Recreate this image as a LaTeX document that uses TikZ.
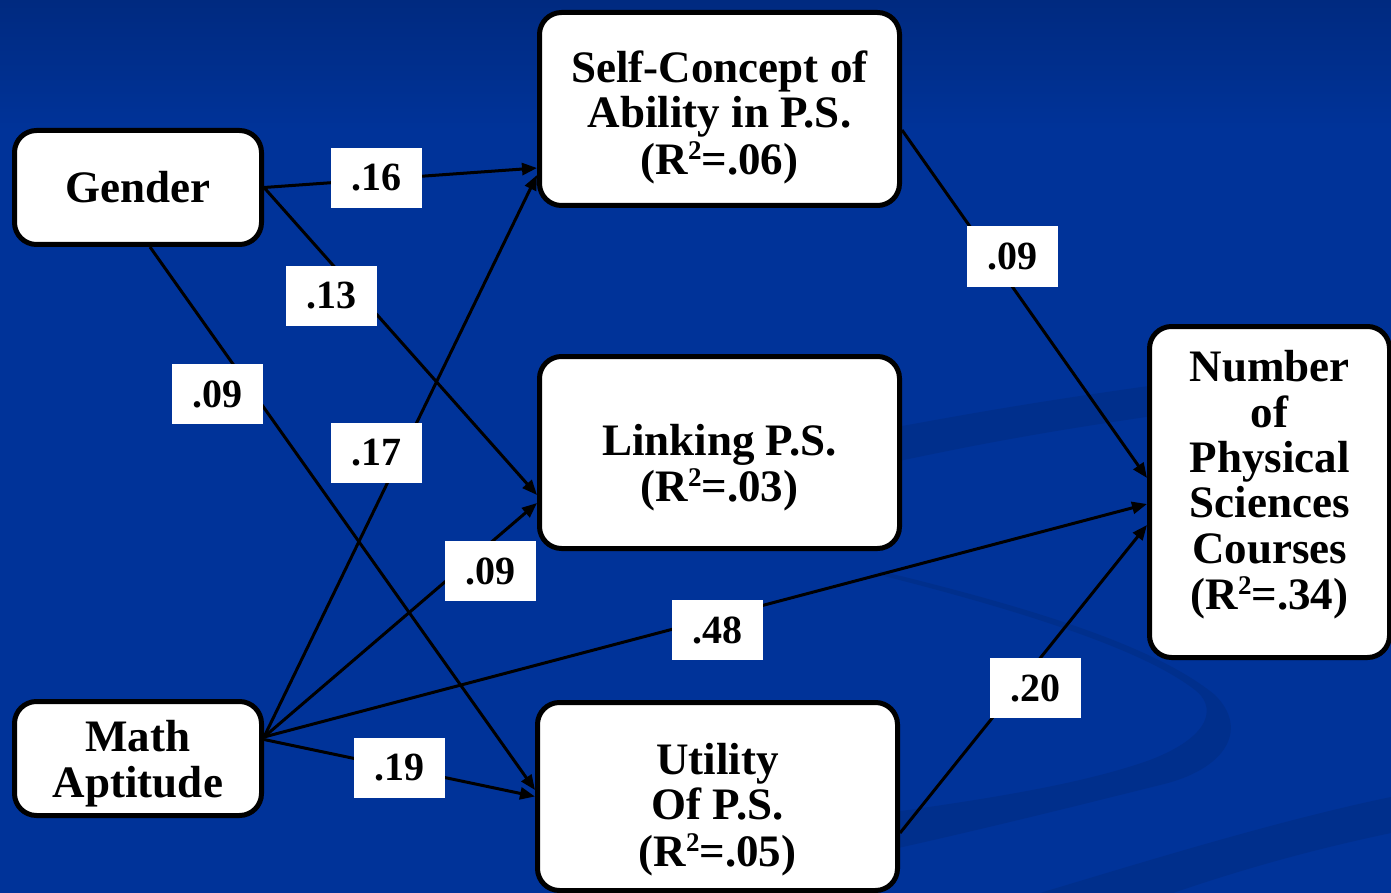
\documentclass[tikz,border=0pt]{standalone}
\usepackage{fontspec}
\setmainfont{Liberation Serif}
\usetikzlibrary{arrows.meta}
\definecolor{bgblue}{RGB}{0,51,153}
\definecolor{bgtop}{RGB}{0,42,128}
\definecolor{swoosh}{RGB}{0,47,140}
% centred block of lines, moved vertically by #1, taking no room of its own
\newcommand\boxlines[2]{\raisebox{#1}[0pt][0pt]{\begin{tabular}{@{}c@{}}#2\end{tabular}}}
% squared R
\newcommand\rsq{R\raisebox{15pt}{\fontsize{27}{27}\selectfont 2}}
\tikzset{
  varbox/.style={draw=black, line width=5pt, fill=white, rounded corners=22pt,
    inner sep=0pt, font=\bfseries\fontsize{45}{45.3}\selectfont},
  coef/.style={fill=white, inner sep=0pt, minimum width=91pt, minimum height=60pt,
    font=\bfseries\fontsize{40}{40}\selectfont},
  path/.style={draw=black, line width=3pt, -{Triangle[length=15pt,width=12pt]}}
}
\begin{document}
\begin{tikzpicture}[x=1pt,y=-1pt]
  \clip (0,0) rectangle (1391,893);
  % background
  \fill[bgblue] (0,0) rectangle (1391,893);
  \shade[top color=bgtop, bottom color=bgblue] (0,0) rectangle (1391,130);
  % faint swooshes
  \fill[swoosh] (880,430) .. controls (980,412) and (1080,392) .. (1391,355)
    -- (1391,385) .. controls (1080,422) and (980,444) .. (880,465) -- cycle;
  \fill[swoosh] (880,571) .. controls (1050,612) and (1160,650) .. (1215,695)
    .. controls (1250,730) and (1225,770) .. (1160,785)
    .. controls (1080,805) and (980,830) .. (880,852)
    -- (880,814) .. controls (980,800) and (1080,785) .. (1150,760)
    .. controls (1215,735) and (1215,705) .. (1195,690)
    .. controls (1150,655) and (1050,618) .. (880,575) -- cycle;
  \fill[swoosh] (1040,893) .. controls (1150,860) and (1280,820) .. (1391,797)
    -- (1391,833) .. controls (1310,850) and (1240,870) .. (1173,893) -- cycle;

  % variables
  \node[varbox, minimum width=247pt, minimum height=114pt] (gender) at (138,187.5)
    {\boxlines{-12pt}{Gender}};
  \node[varbox, minimum width=247pt, minimum height=114pt] (math) at (138,758.5)
    {\boxlines{-13.2pt}{Math\\Aptitude}};
  \node[varbox, minimum width=360pt, minimum height=193pt] (self) at (719.5,109)
    {\boxlines{-16.4pt}{Self-Concept of\\Ability in P.S.\\(\rsq=.06)}};
  \node[varbox, minimum width=360pt, minimum height=192pt] (link) at (719.5,452.5)
    {\boxlines{-23.4pt}{Linking P.S.\\(\rsq=.03)}};
  \node[varbox, minimum width=360pt, minimum height=188pt] (util) at (717.5,796.5)
    {\boxlines{-21.1pt}{Utility\\Of P.S.\\(\rsq=.05)}};
  \node[varbox, minimum width=240pt, minimum height=331pt] (num) at (1269.5,492)
    {\boxlines{-0.9pt}{Number\\of\\Physical\\Sciences\\Courses\\(\rsq=.34)}};

  % paths
  \draw[path] (gender.east) -- ([yshift=-59pt]self.west);
  \draw[path] (gender.east) -- ([yshift=-42.5pt]link.west);
  \draw[path] ([xshift=12pt]gender.south) -- ([yshift=6.5pt]util.west);
  \draw[path] ([yshift=21.5pt]math.east) -- ([yshift=-66pt]self.west);
  \draw[path] ([yshift=21.5pt]math.east) -- ([yshift=-50.5pt]link.west);
  \draw[path] ([yshift=21.5pt]math.east) -- ([yshift=-12pt]num.west);
  \draw[path] ([yshift=19pt]math.east) -- (util.west);
  \draw[path] ([yshift=-21pt]self.east) -- ([yshift=14pt]num.west);
  \draw[path] ([yshift=-36.5pt]util.east) -- ([yshift=-33pt]num.west);

  % coefficients
  \node[coef] (c1) at (376,178) {.16};
  \node[coef] (c2) at (331.5,296) {.13};
  \node[coef] (c3) at (217.5,394) {.09};
  \node[coef] (c4) at (376,453) {.17};
  \node[coef] (c5) at (490.5,571) {.09};
  \node[coef] (c6) at (717.5,630) {.48};
  \node[coef] (c7) at (399.5,768) {.19};
  \node[coef] (c8) at (1012,256.5) {.09};
  \node[coef] (c9) at (1035.5,688) {.20};
\end{tikzpicture}
\end{document}
